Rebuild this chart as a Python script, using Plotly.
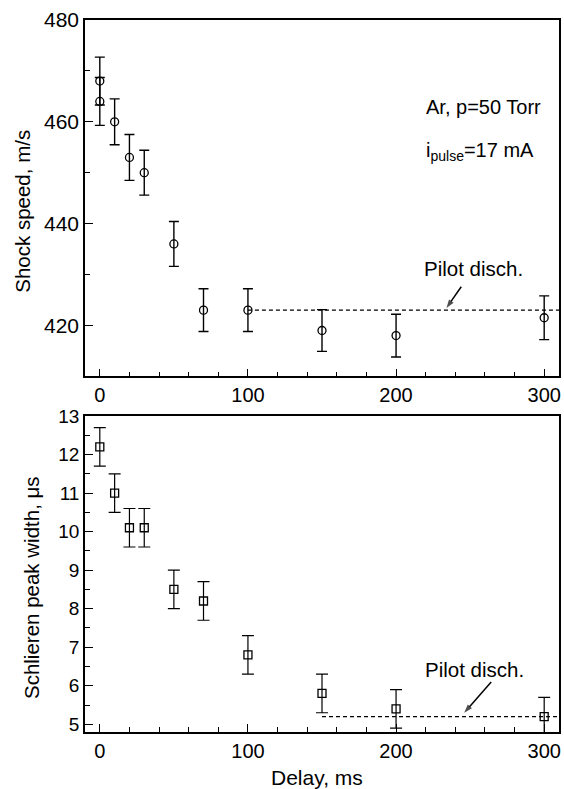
import plotly.graph_objects as go
from plotly.subplots import make_subplots

# ---- data ----
delay_top = [0, 0, 10, 20, 30, 50, 70, 100, 150, 200, 300]
shock_speed = [468, 464, 460, 453, 450, 436, 423, 423, 419, 418, 421.5]
shock_err = [4.7, 4.7, 4.5, 4.5, 4.4, 4.4, 4.2, 4.2, 4.1, 4.2, 4.3]
pilot_top_x = [100, 310]
pilot_top_y = [423, 423]

delay_bot = [0, 10, 20, 30, 50, 70, 100, 150, 200, 300]
peak_width = [12.2, 11.0, 10.1, 10.1, 8.5, 8.2, 6.8, 5.8, 5.4, 5.2]
width_err = [0.5, 0.5, 0.5, 0.5, 0.5, 0.5, 0.5, 0.5, 0.5, 0.5]
pilot_bot_x = [150, 310]
pilot_bot_y = [5.2, 5.2]

# label arrows (tail -> head)
arrow_top_x = [244, 234]
arrow_top_y = [427.6, 423.4]
arrow_bot_x = [264.2, 246]
arrow_bot_y = [6.10, 5.30]

x_ticks = [0, 100, 200, 300]
top_y_ticks = [420, 440, 460, 480]
bot_y_ticks = [5, 6, 7, 8, 9, 10, 11, 12, 13]

FONT = "Liberation Sans, Arial, sans-serif"

fig = make_subplots(rows=2, cols=1, shared_xaxes=False, vertical_spacing=0.0)

fig.add_trace(go.Scatter(
    x=pilot_top_x, y=pilot_top_y, mode="lines",
    line=dict(color="black", width=1.2, dash="4px,3px"), showlegend=False), row=1, col=1)
fig.add_trace(go.Scatter(
    x=delay_top, y=shock_speed, mode="markers",
    marker=dict(symbol="circle-open", size=8, color="black", line=dict(width=1.3)),
    error_y=dict(type="data", array=shock_err, visible=True, color="black", thickness=1.4, width=5),
    showlegend=False), row=1, col=1)

fig.add_trace(go.Scatter(
    x=pilot_bot_x, y=pilot_bot_y, mode="lines",
    line=dict(color="black", width=1.2, dash="4px,3px"), showlegend=False), row=2, col=1)
fig.add_trace(go.Scatter(
    x=delay_bot, y=peak_width, mode="markers",
    marker=dict(symbol="square-open", size=8, color="black", line=dict(width=1.3)),
    error_y=dict(type="data", array=width_err, visible=True, color="black", thickness=1.2, width=6),
    showlegend=False), row=2, col=1)

for ax_x, ax_y, r in [(arrow_top_x, arrow_top_y, 1), (arrow_bot_x, arrow_bot_y, 2)]:
    fig.add_trace(go.Scatter(
        x=ax_x, y=ax_y, mode="lines+markers",
        line=dict(color="black", width=1.5),
        marker=dict(symbol=["circle", "arrow"], size=[0, 9], color="black",
                    angleref="previous", line=dict(width=0)),
        showlegend=False, hoverinfo="skip"), row=r, col=1)

H = 789
mt, mb = 20, 57
plot_h = H - mt - mb
top_dom = [(731.7 - 376) / plot_h, 1.0]
bot_dom = [0.0, (731.7 - 415.7) / plot_h]

axis_common = dict(showline=True, linecolor="black", linewidth=1.6, mirror=True,
                   ticks="inside", ticklen=8, tickwidth=1.3, tickcolor="black",
                   showgrid=False, zeroline=False)

fig.update_layout(
    width=564, height=H,
    margin=dict(l=85, r=3, t=mt, b=mb),
    paper_bgcolor="white", plot_bgcolor="white",
    font=dict(family=FONT, color="black", size=20),
    xaxis=dict(**axis_common, range=[-10, 310], tickvals=x_ticks,
               minor=dict(dtick=20, tick0=0, ticks="inside", ticklen=5, tickcolor="black", tickwidth=1.2),
               tickfont=dict(size=20), anchor="y"),
    yaxis=dict(**axis_common, domain=top_dom, range=[410, 480], tickvals=top_y_ticks,
               minor=dict(dtick=10, tick0=410, ticks="inside", ticklen=5, tickcolor="black", tickwidth=1.2),
               tickfont=dict(size=21)),
    xaxis2=dict(**axis_common, range=[-10, 310], tickvals=x_ticks,
                minor=dict(dtick=20, tick0=0, ticks="inside", ticklen=5, tickcolor="black", tickwidth=1.2),
                tickfont=dict(size=20), anchor="y2"),
    yaxis2=dict(**axis_common, domain=bot_dom, range=[4.8, 13], tickvals=bot_y_ticks,
                minor=dict(dtick=0.5, tick0=5, ticks="inside", ticklen=5, tickcolor="black", tickwidth=1.2),
                tickfont=dict(size=19)),
)

# axis titles placed as paper annotations
fig.add_annotation(x=(22 - 85) / 476, y=1 - (211.5 - 20) / plot_h, xref="paper", yref="paper",
                   text="Shock speed, m/s", textangle=-90, showarrow=False,
                   xanchor="center", yanchor="middle", font=dict(size=20.5))
fig.add_annotation(x=(32 - 85) / 476, y=(731.7 - 587.5) / plot_h, xref="paper", yref="paper",
                   text="Schlieren peak width, \u03bcs", textangle=-90, showarrow=False,
                   xanchor="center", yanchor="middle", font=dict(size=20.5))
fig.add_annotation(x=(317.5 - 85) / 476, y=-(777 - 731.7) / plot_h, xref="paper", yref="paper",
                   text="Delay, ms", showarrow=False,
                   xanchor="center", yanchor="middle", font=dict(size=21))

# text annotations
fig.add_annotation(x=218.6, y=462.9, xref="x", yref="y", text="Ar, p=50 Torr",
                   showarrow=False, xanchor="left", yanchor="middle", font=dict(size=20))
fig.add_annotation(x=218.6, y=454.2, xref="x", yref="y", text="i<sub>pulse</sub>=17 mA",
                   showarrow=False, xanchor="left", yanchor="middle", font=dict(size=20))

fig.add_annotation(x=252, y=431.2, xref="x", yref="y", text="Pilot disch.",
                   showarrow=False, font=dict(size=20.5))
fig.add_annotation(x=253, y=6.41, xref="x2", yref="y2", text="Pilot disch.",
                   showarrow=False, font=dict(size=20.5))

fig.write_html("out.html")
